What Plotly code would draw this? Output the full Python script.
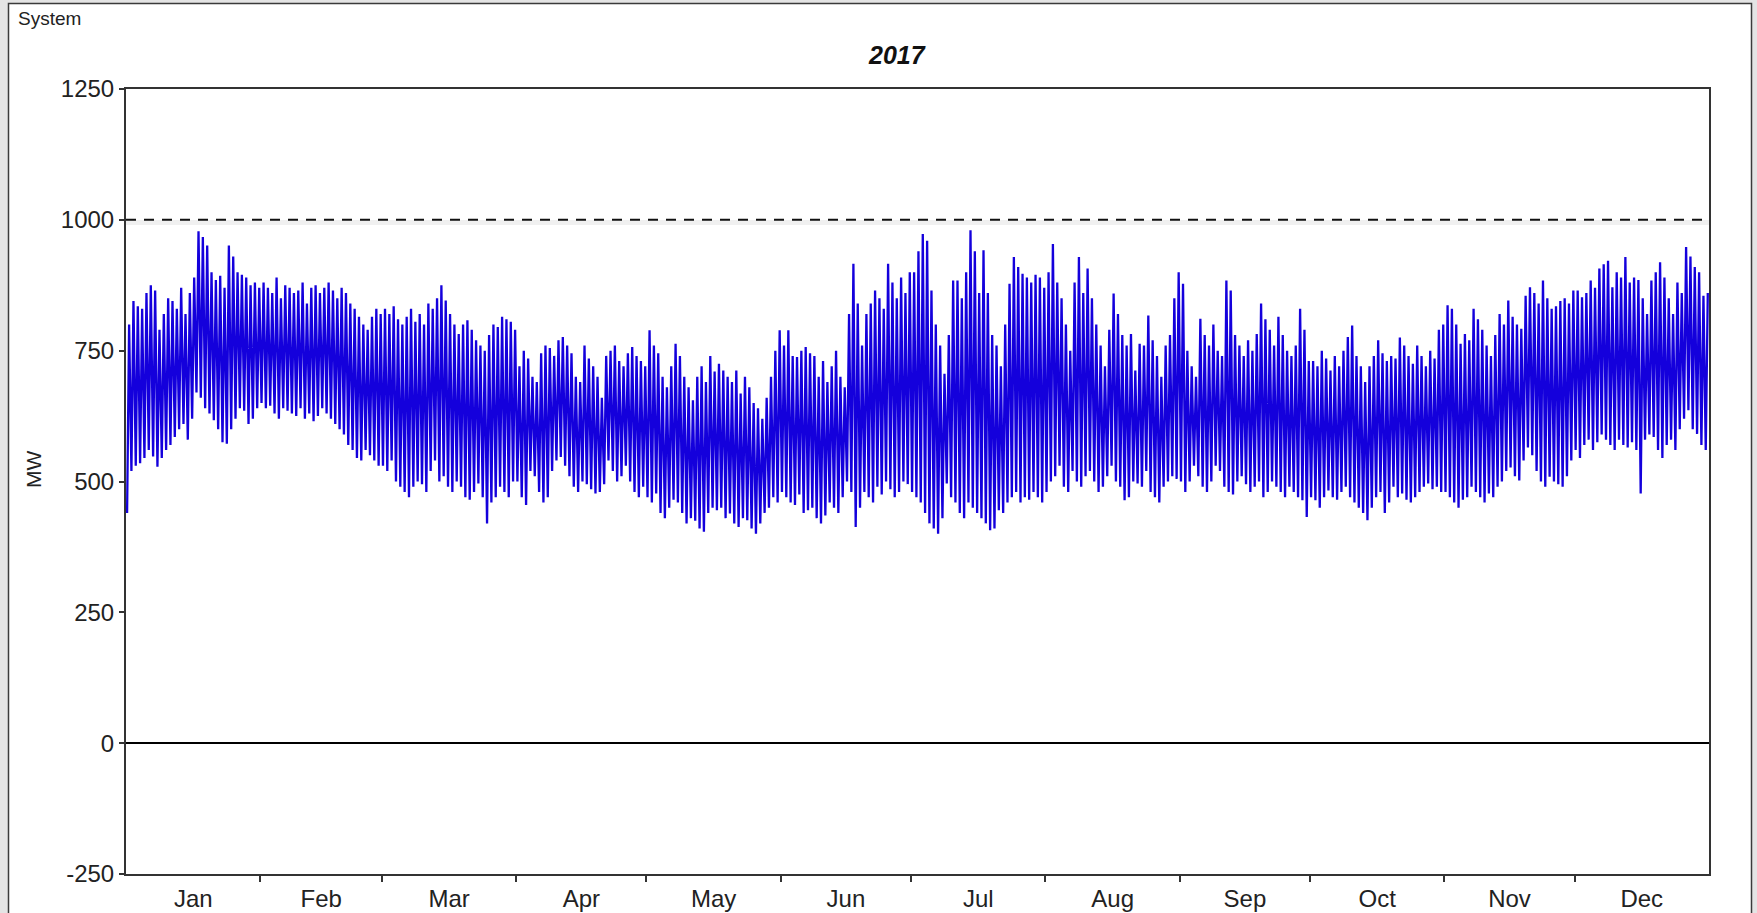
import plotly.graph_objects as go

# ---------------- data ----------------
months = ["Jan", "Feb", "Mar", "Apr", "May", "Jun", "Jul", "Aug", "Sep", "Oct", "Nov", "Dec"]
month_days = [31, 28, 31, 30, 31, 30, 31, 31, 30, 31, 30, 31]
y_ticks = [-250, 0, 250, 500, 750, 1000, 1250]
y_tick_text = ["-250", "0", "250", "500", "750", "1000", "1250"]
limit_mw = 1000

jan_max = [800, 845, 835, 830, 860, 875, 865, 790, 820, 850, 845, 830, 870, 820, 860, 890, 978, 967, 951, 900, 885, 893, 870, 951, 930, 900, 895, 890, 875, 880, 870]
jan_min = [440, 520, 530, 535, 545, 560, 548, 528, 545, 560, 570, 585, 600, 610, 580, 620, 670, 660, 640, 630, 617, 600, 575, 572, 600, 620, 640, 635, 610, 620, 640]
feb_max = [880, 870, 860, 890, 850, 875, 870, 860, 865, 880, 840, 870, 875, 860, 870, 880, 865, 850, 870, 860, 840, 830, 815, 800, 790, 815, 830, 820]
feb_min = [650, 640, 645, 630, 620, 640, 635, 630, 625, 640, 620, 630, 615, 625, 640, 630, 620, 610, 600, 590, 570, 560, 545, 540, 560, 550, 540, 530]
mar_max = [830, 820, 835, 810, 800, 815, 830, 805, 820, 800, 840, 830, 850, 875, 846, 820, 800, 782, 800, 808, 790, 770, 760, 750, 780, 800, 795, 815, 810, 805, 790]
mar_min = [530, 520, 540, 500, 490, 480, 470, 490, 500, 495, 480, 520, 540, 500, 510, 490, 480, 500, 490, 470, 465, 480, 496, 470, 420, 460, 470, 490, 480, 470, 500]
apr_max = [720, 750, 735, 700, 690, 745, 760, 755, 740, 770, 776, 760, 745, 700, 690, 760, 735, 720, 700, 660, 740, 750, 760, 730, 720, 745, 757, 740, 730, 720]
apr_min = [500, 470, 455, 520, 510, 480, 460, 470, 520, 540, 547, 530, 510, 490, 480, 500, 495, 485, 477, 480, 495, 540, 520, 500, 510, 530, 500, 480, 470, 490]
may_max = [789, 760, 745, 700, 680, 720, 763, 740, 700, 680, 655, 700, 720, 690, 740, 710, 725, 712, 700, 690, 712, 668, 700, 680, 650, 640, 620, 660, 700, 750, 789]
may_min = [470, 460, 477, 440, 430, 450, 465, 460, 440, 420, 430, 425, 410, 404, 440, 450, 445, 450, 430, 439, 420, 413, 430, 426, 410, 400, 420, 440, 450, 470, 460]
jun_max = [760, 789, 740, 738, 750, 757, 745, 740, 700, 730, 690, 720, 750, 700, 680, 820, 916, 840, 760, 820, 840, 865, 850, 830, 916, 880, 850, 890, 860, 900]
jun_min = [480, 470, 460, 455, 475, 440, 445, 450, 430, 420, 435, 460, 450, 440, 470, 500, 480, 413, 450, 480, 470, 460, 490, 475, 500, 485, 470, 480, 500, 495]
jul_max = [900, 940, 973, 960, 865, 800, 760, 706, 780, 884, 884, 850, 900, 980, 940, 860, 942, 860, 780, 760, 720, 800, 878, 929, 910, 897, 890, 880, 895, 890, 870]
jul_min = [480, 470, 460, 440, 420, 410, 400, 430, 496, 470, 460, 440, 430, 460, 450, 440, 430, 420, 407, 410, 445, 440, 460, 470, 480, 460, 470, 465, 480, 470, 460]
aug_max = [900, 954, 880, 850, 800, 750, 880, 929, 860, 907, 850, 800, 760, 720, 790, 859, 820, 780, 760, 782, 712, 763, 760, 817, 770, 740, 700, 760, 780, 850, 900]
aug_min = [480, 500, 510, 530, 490, 480, 520, 500, 490, 510, 520, 500, 480, 490, 510, 530, 500, 490, 464, 470, 500, 496, 490, 520, 480, 470, 460, 490, 500, 510, 505]
sep_max = [878, 750, 720, 700, 811, 780, 760, 800, 750, 740, 884, 865, 780, 760, 740, 770, 750, 782, 840, 810, 790, 760, 815, 780, 750, 740, 760, 830, 790, 730]
sep_min = [500, 480, 500, 530, 510, 490, 480, 500, 530, 520, 490, 480, 475, 500, 510, 495, 480, 490, 500, 470, 480, 500, 490, 480, 470, 490, 480, 470, 464, 432]
oct_max = [730, 720, 750, 735, 712, 740, 720, 750, 776, 798, 740, 720, 690, 720, 740, 770, 745, 730, 740, 735, 775, 760, 740, 725, 760, 740, 720, 750, 735, 790, 800]
oct_min = [470, 464, 450, 470, 483, 470, 465, 480, 490, 470, 460, 450, 440, 426, 450, 470, 480, 440, 460, 490, 470, 477, 465, 460, 470, 480, 490, 496, 485, 490, 480]
nov_max = [837, 830, 800, 763, 782, 770, 830, 810, 790, 760, 740, 780, 820, 800, 846, 815, 800, 792, 855, 871, 860, 840, 884, 850, 830, 835, 845, 850, 840, 865]
nov_min = [480, 470, 460, 450, 465, 470, 490, 480, 470, 460, 477, 470, 490, 500, 520, 527, 510, 502, 540, 565, 550, 520, 500, 490, 509, 500, 495, 490, 510, 540]
dec_max = [865, 852, 860, 884, 870, 907, 915, 922, 871, 900, 890, 929, 880, 890, 885, 850, 820, 884, 900, 919, 890, 850, 820, 880, 860, 948, 930, 910, 900, 855, 860]
dec_min = [560, 545, 570, 580, 560, 575, 590, 580, 570, 560, 580, 570, 565, 575, 560, 477, 580, 590, 585, 560, 545, 570, 580, 560, 600, 620, 636, 600, 591, 570, 560]

daily_max = (jan_max + feb_max + mar_max + apr_max + may_max + jun_max +
             jul_max + aug_max + sep_max + oct_max + nov_max + dec_max)
daily_min = (jan_min + feb_min + mar_min + apr_min + may_min + jun_min +
             jul_min + aug_min + sep_min + oct_min + nov_min + dec_min)

# ---------------- build the load curve (night trough, day peak) ----------------
xs, ys = [], []
for d, (lo, hi) in enumerate(zip(daily_min, daily_max)):
    xs += [d + 0.25, d + 0.72]
    ys += [lo, hi]

starts = []
acc = 0
for n in month_days:
    starts.append(acc)
    acc += n
mids = [s + n / 2 for s, n in zip(starts, month_days)]
bounds = starts[1:]
total_days = acc

# ---------------- geometry (pixels) ----------------
W, H = 1757, 913
L, R, T, B = 126, 1709, 89, 874
pw, ph = R - L, B - T


def px(x):
    return (x - L) / pw


def py(y):
    return (B - y) / ph


FONT = "Arial, 'Liberation Sans', sans-serif"
AX = "#333333"

fig = go.Figure()
fig.add_trace(go.Scatter(x=xs, y=ys, mode="lines",
                         line=dict(color="#1400DC", width=2.3),
                         hoverinfo="skip", showlegend=False))

fig.update_layout(
    width=W, height=H,
    margin=dict(l=L, r=W - R, t=T, b=H - B, pad=0, autoexpand=False),
    paper_bgcolor="#e4e4e4",
    plot_bgcolor="#ffffff",
    font=dict(family=FONT, size=24, color="#222222"),
    showlegend=False,
    xaxis=dict(
        range=[0, total_days], tickmode="array", tickvals=mids, ticktext=months,
        ticks="outside", ticklen=0, ticklabelstandoff=2,
        showgrid=False, zeroline=False, automargin=False,
        showline=True, linecolor=AX, linewidth=2, mirror=True,
        tickfont=dict(size=24, family=FONT, color="#222222"),
        minor=dict(tickmode="array", tickvals=bounds, ticks="outside",
                   ticklen=6, tickwidth=1.5, tickcolor=AX, showgrid=False),
    ),
    yaxis=dict(
        range=[-250, 1250], tickmode="array", tickvals=y_ticks, ticktext=y_tick_text,
        ticks="outside", ticklen=5, tickwidth=1.5, tickcolor=AX, automargin=False,
        showgrid=False, zeroline=True, zerolinecolor="#000000", zerolinewidth=2,
        showline=True, linecolor=AX, linewidth=2, mirror=True,
        tickfont=dict(size=24, family=FONT, color="#222222"),
    ),
    shapes=[
        # white panel with dark frame
        dict(type="rect", xref="paper", yref="paper", layer="below",
             x0=px(8.5), x1=px(1751.5), y0=py(935), y1=py(3.5),
             fillcolor="#ffffff", line=dict(color="#3a3a3a", width=1.5)),
        # soft shadow under the limit line
        dict(type="line", xref="x", yref="y", x0=0, x1=total_days,
             y0=limit_mw - 5, y1=limit_mw - 5, layer="above",
             line=dict(color="rgba(0,0,0,0.06)", width=5)),
        # dashed limit line
        dict(type="line", xref="x", yref="y", x0=0, x1=total_days,
             y0=limit_mw, y1=limit_mw, layer="above",
             line=dict(color="#111111", width=2, dash="10px,8px")),
    ],
    annotations=[
        dict(text="System", xref="paper", yref="paper", x=px(16), y=py(18),
             xanchor="left", yanchor="middle", showarrow=False,
             font=dict(size=19, family=FONT, color="#222222")),
        dict(text="<b><i>2017</i></b>", xref="paper", yref="paper", x=px(897), y=py(55),
             xanchor="center", yanchor="middle", showarrow=False,
             font=dict(size=25, family=FONT, color="#111111")),
        dict(text="MW", xref="paper", yref="paper", x=px(33), y=py(470),
             xanchor="center", yanchor="middle", textangle=-90, showarrow=False,
             font=dict(size=21, family=FONT, color="#222222")),
    ],
)

fig.write_html("out.html", config={"displayModeBar": False},
               post_script="document.body.style.margin='0';document.body.style.background='#e4e4e4';")
